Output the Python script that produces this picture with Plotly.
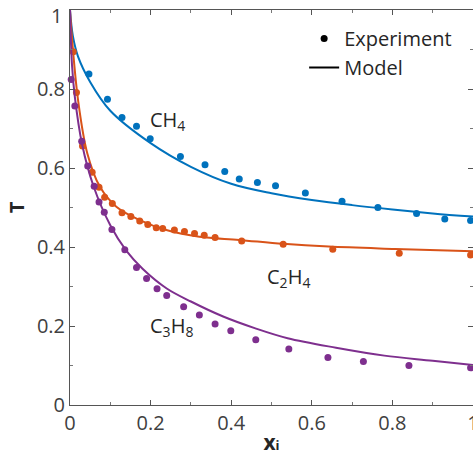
import plotly.graph_objects as go

# ---- data ----
ch4_exp_x = [0.047, 0.093, 0.129, 0.165, 0.199, 0.274, 0.335, 0.384, 0.420, 0.465, 0.510, 0.584, 0.675, 0.764, 0.860, 0.930, 0.994]
ch4_exp_y = [0.838, 0.774, 0.728, 0.706, 0.674, 0.629, 0.608, 0.591, 0.572, 0.563, 0.555, 0.537, 0.516, 0.500, 0.485, 0.471, 0.467]

c2h4_exp_x = [0.008, 0.016, 0.031, 0.055, 0.072, 0.086, 0.105, 0.129, 0.151, 0.173, 0.193, 0.214, 0.230, 0.259, 0.284, 0.309, 0.333, 0.360, 0.426, 0.529, 0.652, 0.817, 0.994]
c2h4_exp_y = [0.894, 0.791, 0.656, 0.589, 0.551, 0.526, 0.510, 0.487, 0.477, 0.466, 0.457, 0.449, 0.447, 0.443, 0.439, 0.434, 0.430, 0.424, 0.415, 0.407, 0.394, 0.384, 0.380]

c3h8_exp_x = [0.003, 0.012, 0.029, 0.044, 0.060, 0.072, 0.085, 0.104, 0.136, 0.165, 0.190, 0.216, 0.240, 0.282, 0.321, 0.360, 0.399, 0.461, 0.543, 0.640, 0.728, 0.841, 0.994]
c3h8_exp_y = [0.824, 0.757, 0.668, 0.605, 0.554, 0.514, 0.488, 0.444, 0.393, 0.348, 0.320, 0.294, 0.277, 0.249, 0.228, 0.205, 0.188, 0.165, 0.142, 0.120, 0.110, 0.100, 0.094]

ch4_mod_x = [0.0, 0.007, 0.02, 0.05, 0.1, 0.2, 0.3, 0.4, 0.5, 0.6, 0.7, 0.8, 0.9, 1.0]
ch4_mod_y = [1.0, 0.935, 0.882, 0.818, 0.745, 0.663, 0.603, 0.560, 0.536, 0.519, 0.506, 0.495, 0.485, 0.477]

c2h4_mod_x = [0.0, 0.004, 0.02, 0.043, 0.074, 0.115, 0.173, 0.239, 0.321, 0.42, 0.529, 0.642, 0.807, 1.0]
c2h4_mod_y = [1.0, 0.94, 0.772, 0.637, 0.553, 0.502, 0.468, 0.443, 0.426, 0.418, 0.408, 0.401, 0.395, 0.389]

c3h8_mod_x = [0.0, 0.005, 0.012, 0.03, 0.058, 0.1, 0.14, 0.18, 0.24, 0.30, 0.38, 0.46, 0.54, 0.66, 0.78, 0.9, 1.0]
c3h8_mod_y = [1.0, 0.86, 0.78, 0.66, 0.555, 0.455, 0.39, 0.345, 0.295, 0.262, 0.224, 0.194, 0.169, 0.145, 0.125, 0.112, 0.101]

x_ticks = [0, 0.2, 0.4, 0.6, 0.8, 1]
x_tick_labels = ["0", "0.2", "0.4", "0.6", "0.8", "1"]
y_ticks = [0, 0.2, 0.4, 0.6, 0.8, 1]
y_tick_labels = ["0", "0.2", "0.4", "0.6", "0.8", "1"]

BLUE = "#0072BD"
ORANGE = "#D95319"
PURPLE = "#7E2F8E"
FONT = "Open Sans"

fig = go.Figure()

for mx, my, ex, ey, col in [
    (ch4_mod_x, ch4_mod_y, ch4_exp_x, ch4_exp_y, BLUE),
    (c2h4_mod_x, c2h4_mod_y, c2h4_exp_x, c2h4_exp_y, ORANGE),
    (c3h8_mod_x, c3h8_mod_y, c3h8_exp_x, c3h8_exp_y, PURPLE),
]:
    fig.add_trace(go.Scatter(x=mx, y=my, mode="lines",
                             line=dict(color=col, width=2, shape="spline", smoothing=1.0),
                             showlegend=False, hoverinfo="skip", cliponaxis=True))
    fig.add_trace(go.Scatter(x=ex, y=ey, mode="markers",
                             marker=dict(color=col, size=7),
                             showlegend=False, cliponaxis=False))

# legend entries
fig.add_trace(go.Scatter(x=[None], y=[None], mode="markers", name="Experiment",
                         marker=dict(color="black", size=7)))
fig.add_trace(go.Scatter(x=[None], y=[None], mode="lines", name="Model",
                         line=dict(color="black", width=2)))

axis_common = dict(
    showgrid=False, zeroline=False, showline=True, linecolor="#555555", linewidth=1,
    mirror="ticks", ticks="inside", ticklen=5, tickcolor="#555555", tickwidth=1,
    tickfont=dict(family=FONT, size=20, color="#404040"),
    ticklabeloverflow="allow", automargin=False,
    minor=dict(ticks="inside", ticklen=3, tickcolor="#777777", dtick=0.1, showgrid=False),
)

# top y label "1" drawn as an annotation (shifted down so it is not cut at the page edge)
fig.update_layout(
    width=473, height=462,
    margin=dict(l=70, r=0, t=10, b=57),
    plot_bgcolor="white", paper_bgcolor="white",
    font=dict(family=FONT, color="#262626"),
    xaxis=dict(range=[0, 1], tickvals=x_ticks, ticktext=x_tick_labels,
               title=dict(text="<b>x</b><span style='font-size:13px'><b>i</b></span>",
                          font=dict(family=FONT, size=21, color="#262626"), standoff=0),
               **axis_common),
    yaxis=dict(range=[0, 1], tickvals=y_ticks[:-1], ticktext=y_tick_labels[:-1],
               title=dict(text="<b>T</b>", font=dict(family=FONT, size=20, color="#262626"), standoff=6),
               **axis_common),
    legend=dict(x=0.581, y=0.977, xanchor="left", yanchor="top",
                font=dict(family=FONT, size=20, color="#262626"),
                bgcolor="rgba(0,0,0,0)", itemwidth=30, tracegroupgap=0),
    showlegend=True,
)
fig.add_annotation(xref="paper", yref="y", x=0, y=y_ticks[-1], text=y_tick_labels[-1],
                   showarrow=False, xanchor="right", yanchor="middle", xshift=-6, yshift=-5,
                   font=dict(family=FONT, size=20, color="#404040"))

ann_font = dict(family=FONT, size=20, color="#262626")
fig.add_annotation(x=0.193, y=0.72, text="CH<sub>4</sub>", showarrow=False, xanchor="left", font=ann_font)
fig.add_annotation(x=0.484, y=0.323, text="C<sub>2</sub>H<sub>4</sub>", showarrow=False, xanchor="left", font=ann_font)
fig.add_annotation(x=0.193, y=0.198, text="C<sub>3</sub>H<sub>8</sub>", showarrow=False, xanchor="left", font=ann_font)

fig.write_html("out.html")
